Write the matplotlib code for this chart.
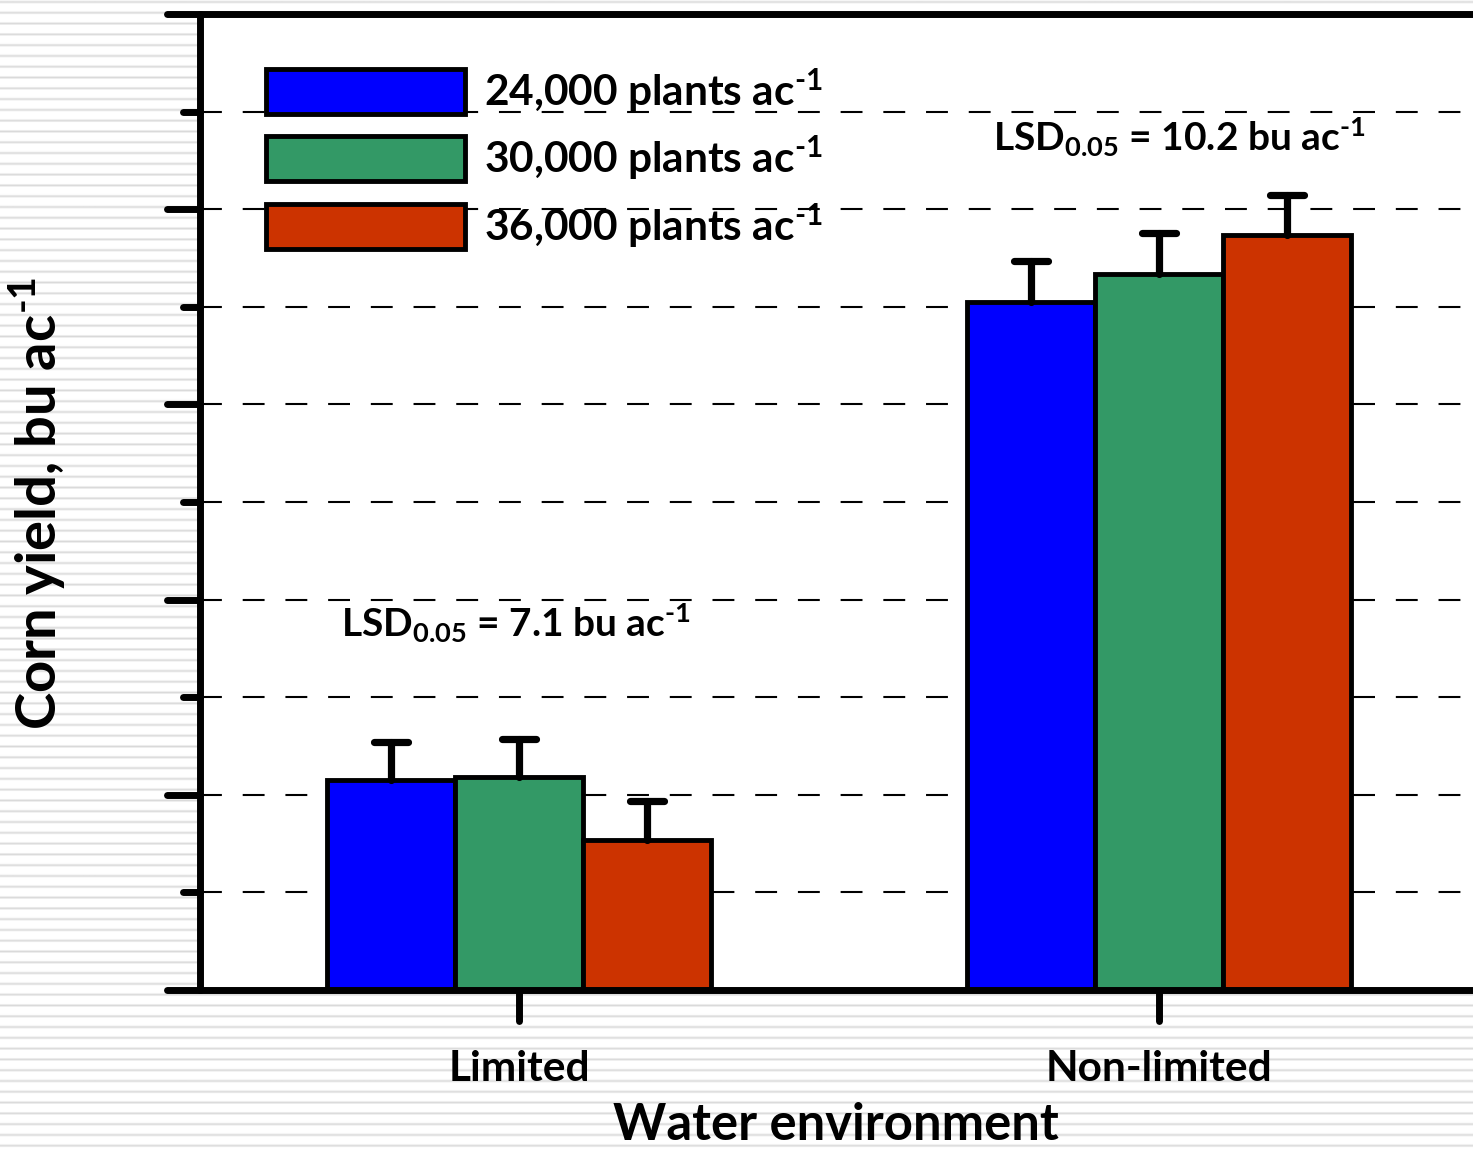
import numpy as np
import matplotlib
matplotlib.use("Agg")
import matplotlib.pyplot as plt
from matplotlib.markers import MarkerStyle, TICKLEFT, TICKDOWN

# ---- data -------------------------------------------------------------
environments = ["Limited", "Non-limited"]
densities = [r"24,000 plants ac$^{\text{-1}}$",
             r"30,000 plants ac$^{\text{-1}}$",
             r"36,000 plants ac$^{\text{-1}}$"]
yield_24k = [53.8, 176.3]
yield_30k = [54.6, 183.4]
yield_36k = [38.3, 193.4]
err_24k = [9.8, 10.5]
err_30k = [9.8, 10.5]
err_36k = [10.0, 10.2]
lsd_labels = [r"LSD$_{0.05}$ = 7.1 bu ac$^{\text{-1}}$",
              r"LSD$_{0.05}$ = 10.2 bu ac$^{\text{-1}}$"]

colors = ["#0000FF", "#339966", "#CC3300"]

# ---- style ------------------------------------------------------------
plt.rcParams["font.family"] = ["Lato", "DejaVu Sans"]
plt.rcParams["font.weight"] = "bold"
plt.rcParams["mathtext.fontset"] = "custom"
plt.rcParams["mathtext.rm"] = "Lato:bold"
plt.rcParams["mathtext.bf"] = "Lato:bold"
plt.rcParams["mathtext.it"] = "Lato:bold"
plt.rcParams["mathtext.default"] = "rm"

W, H = 1473, 1151
fig = plt.figure(figsize=(W / 100, H / 100), dpi=100)

# striped page background
bg = fig.add_axes([0, 0, 1, 1], zorder=-10)
rows = np.arange(H)
period = 10.79
ph = (rows - 1.5) % period
dist = np.minimum(ph, period - ph)
shade = 1 - 0.15 * np.clip(1 - dist / 1.9, 0, 1)
bg.imshow(np.tile(shade[:, None], (1, 4)), cmap="gray", vmin=0, vmax=1,
          aspect="auto", extent=[0, 1, 0, 1], interpolation="bilinear")
bg.set_axis_off()

# ---- main axes ----------------------------------------------------------
ax = fig.add_axes([200 / W, (H - 990) / H, (W - 200) / W, 976 / H])
ax.set_facecolor("white")
ax.set_xlim(-0.4984, 1.4906)
ax.set_ylim(0, 250)

x = np.arange(len(environments))
width = 0.2
series = [(yield_24k, err_24k), (yield_30k, err_30k), (yield_36k, err_36k)]
handles = []
for i, ((vals, errs), col) in enumerate(zip(series, colors)):
    pos = x + (i - 1) * width
    bars = ax.bar(pos, vals, width, color=col, edgecolor="black",
                  linewidth=3.5, zorder=2)
    handles.append(bars)
    _, caps, stems = ax.errorbar(pos, vals, yerr=[np.zeros(len(vals)), errs],
                                 fmt="none", ecolor="black", elinewidth=5.2,
                                 capsize=12, capthick=5.2, zorder=3)
    caps[0].set_visible(False)
    caps[1].set_marker(MarkerStyle("_", capstyle="round"))
    for s in stems:
        s.set_capstyle("round")

# dashed horizontal grid
ax.set_axisbelow(True)
ax.yaxis.grid(True, which="both", color="black", linewidth=1.5,
              linestyle=(0, (10.5, 10.0)))

# spines
for side in ["left", "bottom", "top"]:
    ax.spines[side].set_linewidth(5)
    ax.spines[side].set_capstyle("round")
ax.spines["right"].set_visible(False)

# ticks
ax.set_yticks(np.arange(0, 251, 50))
ax.set_yticks(np.arange(25, 250, 50), minor=True)
ax.tick_params(axis="y", which="major", length=24, width=5, direction="out",
               labelleft=False)
ax.tick_params(axis="y", which="minor", length=12, width=5, direction="out")
ax.set_xticks(x)
ax.set_xticklabels(environments)
ax.tick_params(axis="x", which="major", length=22, width=5, direction="out",
               pad=21, labelsize=30.5)
ax.tick_params(axis="x", which="minor", bottom=False)

for t in ax.yaxis.get_major_ticks() + ax.yaxis.get_minor_ticks():
    t.tick1line.set_marker(MarkerStyle(TICKLEFT, capstyle="round"))
for t in ax.xaxis.get_major_ticks():
    t.tick1line.set_marker(MarkerStyle(TICKDOWN, capstyle="round"))

# axis labels
ax.set_xlabel("Water environment", fontsize=36.5, fontweight="bold")
ax.xaxis.label.set_va("baseline")
ax.xaxis.set_label_coords(0.4995, (990 - 1140) / 976)
ax.set_ylabel(r"Corn yield, bu ac$^{\text{-1}}$", fontsize=40.5, fontweight="bold")
ax.yaxis.label.set_va("baseline")
ax.yaxis.set_label_coords((57 - 200) / 1273, (990 - 503) / 976)

# LSD annotations
ax.text(-0.004, 90.4, lsd_labels[0], ha="center", va="baseline", fontsize=28)
ax.text(1.031, 215.0, lsd_labels[1], ha="center", va="baseline", fontsize=28)

# legend
fs = 30.5
fpx = fs * 100 / 72
ax.legend(handles, densities, loc="upper left",
          bbox_to_anchor=((265.5 - 200) / 1273, 1 - (66 - 14) / 976),
          frameon=False, fontsize=fs, borderpad=0, borderaxespad=0,
          handlelength=199 / fpx, handleheight=(45 / fpx - 0.245) / 0.65,
          labelspacing=0.45, handletextpad=0.45)

fig.savefig("out.png", dpi=100)
